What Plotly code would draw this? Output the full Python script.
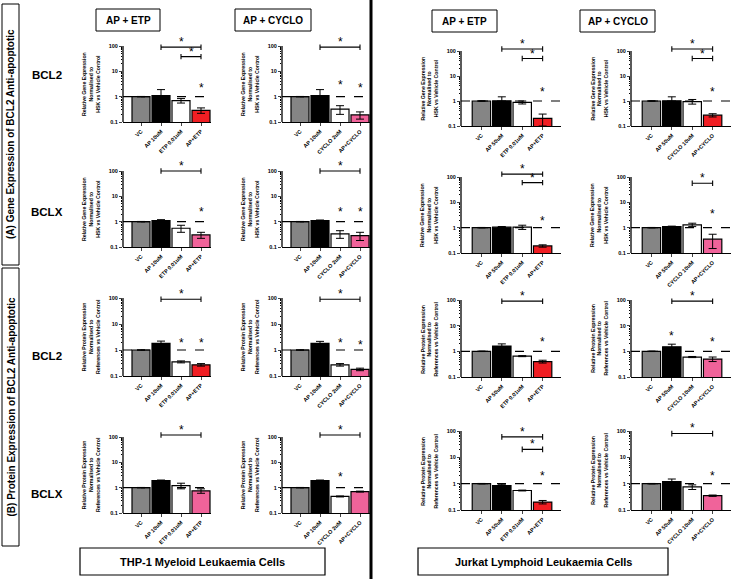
import math
import plotly.graph_objects as go

W, H = 750, 579
FONT = "Arial, Liberation Sans, sans-serif"

# ---------------- category labels ----------------
thp1_etp_labels = ["VC", "AP 10uM", "ETP 0.01uM", "AP+ETP"]
thp1_cyclo_labels = ["VC", "AP 10uM", "CYCLO 2uM", "AP+CYCLO"]
jurkat_etp_labels = ["VC", "AP 50uM", "ETP 0.01uM", "AP+ETP"]
jurkat_cyclo_labels = ["VC", "AP 50uM", "CYCLO 10uM", "AP+CYCLO"]

y_tick_vals = [0.1, 1, 10, 100]
y_tick_text = ["0.1", "1", "10", "100"]
reference_level = 1.0

gene_title = "Relative Gene Expression<br>Normalised to<br>HSK vs Vehicle Control"
protein_title = "Relative Protein Expression<br>Normalised to<br>References vs Vehicle Control"

# ---------------- values (mean, error) ----------------
# (A) gene expression, BCL2
gene_bcl2_thp1_etp_mean = [1.0, 1.1, 0.7, 0.29]
gene_bcl2_thp1_etp_err = [0.02, 0.8, 0.14, 0.07]
gene_bcl2_thp1_cyclo_mean = [1.0, 1.1, 0.32, 0.19]
gene_bcl2_thp1_cyclo_err = [0.02, 0.8, 0.12, 0.06]
gene_bcl2_jurkat_etp_mean = [1.0, 1.02, 0.88, 0.2]
gene_bcl2_jurkat_etp_err = [0.02, 0.45, 0.12, 0.1]
gene_bcl2_jurkat_cyclo_mean = [1.0, 1.02, 0.95, 0.27]
gene_bcl2_jurkat_cyclo_err = [0.02, 0.45, 0.2, 0.04]
# (A) gene expression, BCLX
gene_bclx_thp1_etp_mean = [1.0, 1.1, 0.55, 0.3]
gene_bclx_thp1_etp_err = [0.02, 0.1, 0.17, 0.08]
gene_bclx_thp1_cyclo_mean = [1.0, 1.1, 0.33, 0.28]
gene_bclx_thp1_cyclo_err = [0.02, 0.06, 0.11, 0.1]
gene_bclx_jurkat_etp_mean = [1.0, 1.05, 1.05, 0.19]
gene_bclx_jurkat_etp_err = [0.02, 0.06, 0.2, 0.02]
gene_bclx_jurkat_cyclo_mean = [1.0, 1.1, 1.3, 0.35]
gene_bclx_jurkat_cyclo_err = [0.02, 0.05, 0.2, 0.2]
# (B) protein expression, BCL2
prot_bcl2_thp1_etp_mean = [1.0, 1.8, 0.35, 0.27]
prot_bcl2_thp1_etp_err = [0.02, 0.4, 0.03, 0.03]
prot_bcl2_thp1_cyclo_mean = [1.0, 1.8, 0.27, 0.18]
prot_bcl2_thp1_cyclo_err = [0.02, 0.35, 0.03, 0.02]
prot_bcl2_jurkat_etp_mean = [1.0, 1.6, 0.65, 0.4]
prot_bcl2_jurkat_etp_err = [0.02, 0.35, 0.03, 0.05]
prot_bcl2_jurkat_cyclo_mean = [1.0, 1.5, 0.6, 0.5]
prot_bcl2_jurkat_cyclo_err = [0.02, 0.4, 0.03, 0.1]
# (B) protein expression, BCLX
prot_bclx_thp1_etp_mean = [1.0, 1.9, 1.2, 0.75]
prot_bclx_thp1_etp_err = [0.02, 0.1, 0.3, 0.15]
prot_bclx_thp1_cyclo_mean = [1.0, 1.9, 0.45, 0.7]
prot_bclx_thp1_cyclo_err = [0.02, 0.1, 0.02, 0.03]
prot_bclx_jurkat_etp_mean = [1.0, 0.85, 0.55, 0.2]
prot_bclx_jurkat_etp_err = [0.02, 0.1, 0.02, 0.03]
prot_bclx_jurkat_cyclo_mean = [1.0, 1.2, 0.75, 0.35]
prot_bclx_jurkat_cyclo_err = [0.02, 0.3, 0.15, 0.02]

# ---------------- significance marks ----------------
# stars over single bars: (bar index, height)
gene_bcl2_thp1_etp_stars = [(3, 2.3)]
gene_bcl2_thp1_cyclo_stars = [(2, 3.0), (3, 2.2)]
gene_bcl2_jurkat_etp_stars = [(3, 2.3)]
gene_bcl2_jurkat_cyclo_stars = [(3, 2.3)]
gene_bclx_thp1_etp_stars = [(3, 2.3)]
gene_bclx_thp1_cyclo_stars = [(2, 2.3), (3, 2.3)]
gene_bclx_jurkat_etp_stars = [(3, 1.9)]
gene_bclx_jurkat_cyclo_stars = [(3, 3.5)]
prot_bcl2_thp1_etp_stars = [(2, 1.8), (3, 1.8)]
prot_bcl2_thp1_cyclo_stars = [(2, 1.8), (3, 1.6)]
prot_bcl2_jurkat_etp_stars = [(3, 2.3)]
prot_bcl2_jurkat_cyclo_stars = [(1, 4.0), (3, 2.3)]
prot_bclx_thp1_etp_stars = []
prot_bclx_thp1_cyclo_stars = [(2, 2.6)]
prot_bclx_jurkat_etp_stars = [(3, 1.9)]
prot_bclx_jurkat_cyclo_stars = [(3, 1.9)]
# brackets between bars: (from index, to index, height)
gene_bcl2_thp1_etp_brackets = [(1, 3, 90), (2, 3, 38)]
gene_bcl2_thp1_cyclo_brackets = [(1, 3, 90)]
gene_bcl2_jurkat_etp_brackets = [(1, 3, 120), (2, 3, 50)]
gene_bcl2_jurkat_cyclo_brackets = [(1, 3, 120), (2, 3, 50)]
gene_bclx_thp1_etp_brackets = [(1, 3, 100)]
gene_bclx_thp1_cyclo_brackets = [(1, 3, 100)]
gene_bclx_jurkat_etp_brackets = [(1, 3, 130), (2, 3, 60)]
gene_bclx_jurkat_cyclo_brackets = [(2, 3, 57)]
prot_bcl2_thp1_etp_brackets = [(1, 3, 90)]
prot_bcl2_thp1_cyclo_brackets = [(1, 3, 90)]
prot_bcl2_jurkat_etp_brackets = [(1, 3, 90)]
prot_bcl2_jurkat_cyclo_brackets = [(1, 3, 90)]
prot_bclx_thp1_etp_brackets = [(1, 3, 120)]
prot_bclx_thp1_cyclo_brackets = [(1, 3, 120)]
prot_bclx_jurkat_etp_brackets = [(1, 3, 60), (2, 3, 20)]
prot_bclx_jurkat_cyclo_brackets = [(1, 3, 80)]

RED = "#f01e23"
PINK = "#f0639a"
GRAY = "#858585"

panels = [
    # row 1
    (thp1_etp_labels, gene_bcl2_thp1_etp_mean, gene_bcl2_thp1_etp_err, gene_bcl2_thp1_etp_stars, gene_bcl2_thp1_etp_brackets, RED, gene_title),
    (thp1_cyclo_labels, gene_bcl2_thp1_cyclo_mean, gene_bcl2_thp1_cyclo_err, gene_bcl2_thp1_cyclo_stars, gene_bcl2_thp1_cyclo_brackets, PINK, gene_title),
    (jurkat_etp_labels, gene_bcl2_jurkat_etp_mean, gene_bcl2_jurkat_etp_err, gene_bcl2_jurkat_etp_stars, gene_bcl2_jurkat_etp_brackets, RED, gene_title),
    (jurkat_cyclo_labels, gene_bcl2_jurkat_cyclo_mean, gene_bcl2_jurkat_cyclo_err, gene_bcl2_jurkat_cyclo_stars, gene_bcl2_jurkat_cyclo_brackets, RED, gene_title),
    # row 2
    (thp1_etp_labels, gene_bclx_thp1_etp_mean, gene_bclx_thp1_etp_err, gene_bclx_thp1_etp_stars, gene_bclx_thp1_etp_brackets, PINK, gene_title),
    (thp1_cyclo_labels, gene_bclx_thp1_cyclo_mean, gene_bclx_thp1_cyclo_err, gene_bclx_thp1_cyclo_stars, gene_bclx_thp1_cyclo_brackets, PINK, gene_title),
    (jurkat_etp_labels, gene_bclx_jurkat_etp_mean, gene_bclx_jurkat_etp_err, gene_bclx_jurkat_etp_stars, gene_bclx_jurkat_etp_brackets, RED, gene_title),
    (jurkat_cyclo_labels, gene_bclx_jurkat_cyclo_mean, gene_bclx_jurkat_cyclo_err, gene_bclx_jurkat_cyclo_stars, gene_bclx_jurkat_cyclo_brackets, PINK, gene_title),
    # row 3
    (thp1_etp_labels, prot_bcl2_thp1_etp_mean, prot_bcl2_thp1_etp_err, prot_bcl2_thp1_etp_stars, prot_bcl2_thp1_etp_brackets, RED, protein_title),
    (thp1_cyclo_labels, prot_bcl2_thp1_cyclo_mean, prot_bcl2_thp1_cyclo_err, prot_bcl2_thp1_cyclo_stars, prot_bcl2_thp1_cyclo_brackets, PINK, protein_title),
    (jurkat_etp_labels, prot_bcl2_jurkat_etp_mean, prot_bcl2_jurkat_etp_err, prot_bcl2_jurkat_etp_stars, prot_bcl2_jurkat_etp_brackets, RED, protein_title),
    (jurkat_cyclo_labels, prot_bcl2_jurkat_cyclo_mean, prot_bcl2_jurkat_cyclo_err, prot_bcl2_jurkat_cyclo_stars, prot_bcl2_jurkat_cyclo_brackets, PINK, protein_title),
    # row 4
    (thp1_etp_labels, prot_bclx_thp1_etp_mean, prot_bclx_thp1_etp_err, prot_bclx_thp1_etp_stars, prot_bclx_thp1_etp_brackets, PINK, protein_title),
    (thp1_cyclo_labels, prot_bclx_thp1_cyclo_mean, prot_bclx_thp1_cyclo_err, prot_bclx_thp1_cyclo_stars, prot_bclx_thp1_cyclo_brackets, PINK, protein_title),
    (jurkat_etp_labels, prot_bclx_jurkat_etp_mean, prot_bclx_jurkat_etp_err, prot_bclx_jurkat_etp_stars, prot_bclx_jurkat_etp_brackets, RED, protein_title),
    (jurkat_cyclo_labels, prot_bclx_jurkat_cyclo_mean, prot_bclx_jurkat_cyclo_err, prot_bclx_jurkat_cyclo_stars, prot_bclx_jurkat_cyclo_brackets, PINK, protein_title),
]

# ---------------- layout geometry (pixels) ----------------
col_px = [(123, 211), (282, 370), (461, 561), (631, 731)]
col_range = [(-0.9, 3.5), (-0.9, 3.5), (-1.0, 3.9), (-1.0, 3.9)]
row_px_left = [(46, 122), (171, 247), (298, 376), (437, 513)]
row_px_right = [(51, 126), (177, 253), (300, 377), (431, 510)]
Y_LOG_MIN, Y_LOG_AXIS_TOP, Y_LOG_EXT = -1.0, 2.0, 2.45   # headroom above 100 for brackets

fig = go.Figure()
layout = dict(
    width=W, height=H, margin=dict(l=0, r=0, t=0, b=0, autoexpand=False),
    paper_bgcolor="white", plot_bgcolor="white", showlegend=False,
    font=dict(family=FONT, color="black"),
)
annotations = []
shapes = []


def ann(**kw):
    base = dict(showarrow=False, xanchor="center", yanchor="middle")
    base.update(kw)
    annotations.append(base)


STAR_FONT = dict(size=12, family=FONT, color="black")

for k, (labels, mean, err, stars, brackets, c4, ytitle) in enumerate(panels):
    r, c = divmod(k, 4)
    n = k + 1
    xs = "" if n == 1 else str(n)
    xref, yref = "x" + xs, "y" + xs
    x0, x1 = col_px[c]
    yt, yb = (row_px_left if c < 2 else row_px_right)[r]
    dec = (yb - yt) / (Y_LOG_AXIS_TOP - Y_LOG_MIN)
    yt_ext = yt - (Y_LOG_EXT - Y_LOG_AXIS_TOP) * dec
    rng = col_range[c]
    cats = list(range(len(labels)))

    layout["xaxis" + xs] = dict(
        domain=[x0 / W, x1 / W], anchor=yref, range=list(rng), automargin=False,
        tickmode="array", tickvals=cats, ticktext=["<b>%s</b>" % t for t in labels],
        tickangle=-45, tickfont=dict(size=5.5, family=FONT), ticks="outside", ticklen=3,
        tickwidth=1, showline=True, linecolor="black", linewidth=1.3,
        showgrid=False, zeroline=False, fixedrange=True,
    )
    layout["yaxis" + xs] = dict(
        domain=[1 - yb / H, 1 - yt_ext / H], anchor=xref, type="log",
        range=[Y_LOG_MIN, Y_LOG_EXT], automargin=False,
        tickmode="array", tickvals=y_tick_vals, ticktext=["<b>%s</b>" % t for t in y_tick_text],
        tickfont=dict(size=5.5, family=FONT), ticks="outside", ticklen=3, tickwidth=1,
        minor=dict(ticks="outside", ticklen=1.5, tickwidth=0.6, tickcolor="black",
                   tickvals=[v * m for v in [0.1, 1, 10] for m in range(2, 10)]),
        showline=False, showgrid=False, zeroline=False, fixedrange=True,
    )
    # y axis line, only from 0.1 to 100
    shapes.append(dict(type="line", xref=xref + " domain", x0=0, x1=0, yref=yref,
                       y0=y_tick_vals[0], y1=y_tick_vals[-1], line=dict(color="black", width=1.3)))

    fig.add_trace(go.Bar(
        x=cats, y=mean, xaxis=xref, yaxis=yref, width=0.9,
        marker=dict(color=[GRAY, "black", "white", c4], line=dict(color="black", width=1.2)),
        error_y=dict(type="data", array=err, arrayminus=err, color="black", thickness=1, width=4, visible=True),
    ))
    fig.add_trace(go.Scatter(
        x=list(rng), y=[reference_level, reference_level], xaxis=xref, yaxis=yref,
        mode="lines", line=dict(color="black", width=1.2, dash="dash"), cliponaxis=False,
    ))
    for (i, j, yv) in brackets:
        cap = 1.28
        fig.add_trace(go.Scatter(
            x=[i, i, None, i, j, None, j, j],
            y=[yv / cap, yv * cap, None, yv, yv, None, yv / cap, yv * cap],
            xaxis=xref, yaxis=yref, mode="lines", line=dict(color="black", width=1.1),
            cliponaxis=False,
        ))
        ann(x=(i + j) / 2, y=math.log10(yv) + 0.2, xref=xref, yref=yref, text="*", font=STAR_FONT)
    for (i, yv) in stars:
        ann(x=i, y=math.log10(yv), xref=xref, yref=yref, text="*", font=STAR_FONT)
    # y axis title
    ann(x=(x0 - 32) / W, y=1 - (yt + yb) / 2 / H, xref="paper", yref="paper",
        text="<b>%s</b>" % ytitle, textangle=-90, font=dict(size=5.2, family=FONT), align="center")

# ---------------- header boxes ----------------
headers = ["AP + ETP", "AP + CYCLO", "AP + ETP", "AP + CYCLO"]
header_px = [(96, 160, 9, 31), (235, 311, 9, 31), (432, 497, 10, 32), (580, 655, 10, 32)]
for txt, (a, b, t, bt) in zip(headers, header_px):
    shapes.append(dict(type="rect", xref="paper", yref="paper", x0=a / W, x1=b / W,
                       y0=1 - bt / H, y1=1 - t / H, line=dict(color="black", width=1)))
    ann(x=(a + b) / 2 / W, y=1 - (t + bt) / 2 / H, xref="paper", yref="paper",
        text="<b>%s</b>" % txt, font=dict(size=10, family=FONT))

# row labels
row_labels = ["BCL2", "BCLX", "BCL2", "BCLX"]
row_label_y = [75, 212, 356, 494]
for txt, yy in zip(row_labels, row_label_y):
    ann(x=47 / W, y=1 - yy / H, xref="paper", yref="paper",
        text="<b>%s</b>" % txt, font=dict(size=11.5, family=FONT))

# side boxes
side_labels = ["(A) Gene Expression of BCL2 Anti-apoptotic", "(B) Protein Expression of BCL2 Anti-apoptotic"]
side_px = [(2, 19, 4, 265), (2, 19, 268, 546)]
for txt, (a, b, t, bt) in zip(side_labels, side_px):
    shapes.append(dict(type="rect", xref="paper", yref="paper", x0=a / W, x1=b / W,
                       y0=1 - bt / H, y1=1 - t / H, line=dict(color="black", width=1)))
    ann(x=(a + b) / 2 / W, y=1 - (t + bt) / 2 / H, xref="paper", yref="paper",
        text="<b>%s</b>" % txt, textangle=-90, font=dict(size=10, family=FONT))

# bottom boxes
bottom_labels = ["THP-1 Myeloid Leukaemia Cells", "Jurkat Lymphoid Leukaemia Cells"]
bottom_px = [(80, 325, 548, 575), (418, 668, 548, 575)]
for txt, (a, b, t, bt) in zip(bottom_labels, bottom_px):
    shapes.append(dict(type="rect", xref="paper", yref="paper", x0=a / W, x1=b / W,
                       y0=1 - bt / H, y1=1 - t / H, line=dict(color="black", width=1.2)))
    ann(x=(a + b) / 2 / W, y=1 - (t + bt) / 2 / H, xref="paper", yref="paper",
        text="<b>%s</b>" % txt, font=dict(size=11, family=FONT))

# vertical divider
shapes.append(dict(type="line", xref="paper", yref="paper", x0=371 / W, x1=371 / W, y0=0, y1=1,
                   line=dict(color="black", width=3)))

layout["annotations"] = annotations
layout["shapes"] = shapes
fig.update_layout(**layout)
fig.write_html(
    "out.html",
    config={"displayModeBar": False},
    post_script="document.body.style.margin='0';document.body.style.padding='0';",
)
